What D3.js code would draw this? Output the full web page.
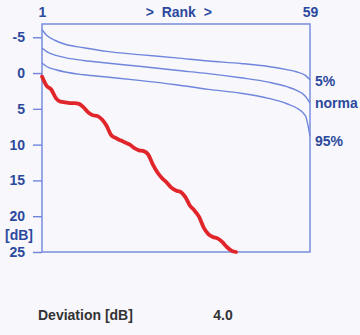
<!DOCTYPE html>
<html><head><meta charset="utf-8">
<script src="https://cdn.jsdelivr.net/npm/d3@7"></script>
<style>
html,body{margin:0;padding:0;background:#f8f7fc;}
svg{display:block;font-family:"Liberation Sans",Arial,sans-serif;}
</style></head>
<body><svg id="c" width="360" height="335"></svg>
<script>
// ---- data ----
const yTicks = [-5, 0, 5, 10, 15, 20, 25];
const rankTicks = [1, 59];
const refRanks = [1, 2, 4, 6, 10, 15, 22, 30, 37, 44, 50, 54, 56, 58, 59];
const p5 = [-6.05, -5.28, -4.51, -4.02, -3.53, -3.02, -2.57, -2.12, -1.68, -1.34, -0.92, -0.47, -0.18, 0.32, 0.94];
const normal = [-3.49, -3.00, -2.46, -2.16, -1.75, -1.40, -0.94, -0.38, 0.08, 0.66, 1.27, 1.91, 2.40, 3.24, 4.19];
const p95 = [-1.40, -0.91, -0.46, -0.14, 0.24, 0.56, 1.02, 1.63, 2.28, 2.82, 3.53, 4.29, 4.85, 5.96, 8.85];
const seriesLabels = ["5%", "norma", "95%"];
const deviation = [0.5, 1.8, 2.3, 3.5, 4.0, 4.1, 4.2, 4.2, 4.3, 4.8, 5.5, 5.9, 6.0, 6.5, 7.4,
  8.7, 9.1, 9.4, 9.7, 10.0, 10.5, 10.8, 10.9, 11.4, 12.8, 13.9, 14.7, 15.3, 16.0, 16.4,
  16.6, 17.3, 18.5, 19.2, 20.1, 21.6, 22.5, 22.9, 23.1, 23.6, 24.3, 24.8, 25.0];
const deviationLabel = "Deviation [dB]";
const deviationValue = "4.0";

// ---- drawing ----
const svg = d3.select("#c");
const blue = "#6f86dc", txt = "#2c4a9c", fs = 14;
const x = d3.scaleLinear().domain([1, 59]).range([42, 310]);
const y = d3.scaleLinear().domain([-6.85, 25]).range([24, 252]);

svg.append("rect").attr("x", x(1)).attr("y", y(-6.85))
  .attr("width", x(59) - x(1)).attr("height", y(25) - y(-6.85))
  .attr("fill", "none").attr("stroke", blue).attr("stroke-width", 1.4);

const ya = svg.append("g").attr("transform", `translate(${x(1)},0)`)
  .call(d3.axisLeft(y).tickValues(yTicks).tickSize(9).tickPadding(8).tickFormat(d3.format("d")));
ya.select(".domain").remove();
ya.selectAll("line").attr("stroke", blue).attr("stroke-width", 1.4);
ya.selectAll("text").attr("fill", txt).attr("font-size", fs).attr("font-weight", "bold")
  .attr("font-family", "Liberation Sans, Arial, sans-serif").text(d => d < 0 ? "-" + Math.abs(d) : d);

svg.append("text").attr("x", 19).attr("y", 240).attr("text-anchor", "middle")
  .attr("fill", txt).attr("font-size", fs).attr("font-weight", "bold").text("[dB]");

const xa = svg.append("g").attr("transform", `translate(0,${y(-6.85)})`)
  .call(d3.axisTop(x).tickValues(rankTicks).tickSize(0).tickPadding(7));
xa.select(".domain").remove();
xa.selectAll("text").attr("fill", txt).attr("font-size", fs).attr("font-weight", "bold")
  .attr("font-family", "Liberation Sans, Arial, sans-serif");
svg.append("text").attr("x", x(30.6)).attr("y", 17).attr("text-anchor", "middle")
  .attr("fill", txt).attr("font-size", fs).attr("font-weight", "bold")
  .attr("xml:space", "preserve").text(">  Rank  >");

const line = d3.line().x(d => x(d[0])).y(d => y(d[1])).curve(d3.curveMonotoneX);
[p5, normal, p95].forEach((s, i) => {
  svg.append("path").datum(refRanks.map((r, j) => [r, s[j]]))
    .attr("d", line).attr("fill", "none").attr("stroke", blue).attr("stroke-width", 1.4);
});
const labelY = [86, 108, 146];
seriesLabels.forEach((t, i) => {
  svg.append("text").attr("x", 315).attr("y", labelY[i]).attr("fill", txt)
    .attr("font-size", fs).attr("font-weight", "bold").text(t);
});

svg.append("path").datum(deviation.map((v, i) => [i + 1, v]))
  .attr("d", d3.line().x(d => x(d[0])).y(d => y(d[1])).curve(d3.curveMonotoneX))
  .attr("fill", "none").attr("stroke", "#e0262a").attr("stroke-width", 3.8)
  .attr("stroke-linejoin", "round").attr("stroke-linecap", "round");

svg.append("text").attr("x", 38).attr("y", 320).attr("fill", "#333")
  .attr("font-size", fs).attr("font-weight", "bold").text(deviationLabel);
svg.append("text").attr("x", 223).attr("y", 320).attr("text-anchor", "middle").attr("fill", "#333")
  .attr("font-size", fs).attr("font-weight", "bold").text(deviationValue);
</script></body></html>
